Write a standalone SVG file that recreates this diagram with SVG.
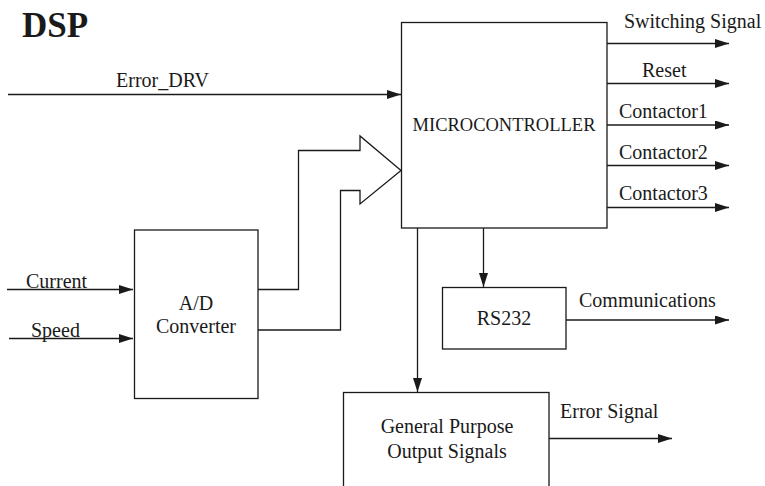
<svg xmlns="http://www.w3.org/2000/svg" width="765" height="486" viewBox="0 0 765 486" font-family="'Liberation Serif', 'Times New Roman', serif">
<defs>
<marker id="ah" markerUnits="userSpaceOnUse" markerWidth="14" markerHeight="10" refX="14" refY="4.5" orient="auto">
<path d="M0,0 L14,4.5 L0,9 z" fill="#1a1a1a"/>
</marker>
<style>
.box{fill:#fff;stroke:#1a1a1a;stroke-width:1.3}
.ln{fill:none;stroke:#1a1a1a;stroke-width:1.3}
.ar{fill:none;stroke:#1a1a1a;stroke-width:1.3;marker-end:url(#ah)}
text{font-family:'Liberation Serif','Times New Roman',serif;font-size:20px;fill:#1a1a1a}
.c{text-anchor:middle}
</style>
</defs>
<rect width="765" height="486" fill="#fff"/>
<text x="22" y="37" style="font-size:35px;font-weight:bold">DSP</text>

<g id="connectors">
<line class="ar" x1="8" y1="94.5" x2="401" y2="94.5"/>
<line class="ar" x1="607" y1="43.5" x2="729" y2="43.5"/>
<line class="ar" x1="607" y1="83.5" x2="729" y2="83.5"/>
<line class="ar" x1="607" y1="125" x2="729" y2="125"/>
<line class="ar" x1="607" y1="165.5" x2="729" y2="165.5"/>
<line class="ar" x1="607" y1="207.5" x2="729" y2="207.5"/>
<line class="ar" x1="7" y1="289.5" x2="133" y2="289.5"/>
<line class="ar" x1="9" y1="338.5" x2="133" y2="338.5"/>
<path class="ln" d="M258,289.5 H298.5 V150.5 H360 V136 L401,170.5 L360,204 V190.5 H340.5 V330 H258"/>
<line class="ar" x1="483.5" y1="228" x2="483.5" y2="287"/>
<line class="ar" x1="417.5" y1="228" x2="417.5" y2="392"/>
<line class="ar" x1="566" y1="320" x2="729" y2="320"/>
<line class="ar" x1="549" y1="438.5" x2="672" y2="438.5"/>
</g>

<g id="labels">
<text x="116" y="87">Error_DRV</text>
<text x="624" y="28">Switching Signal</text>
<text x="642" y="77">Reset</text>
<text x="619" y="118">Contactor1</text>
<text x="619" y="159">Contactor2</text>
<text x="619" y="200">Contactor3</text>
<text x="26" y="288">Current</text>
<text x="31" y="336.5">Speed</text>
<text x="579" y="307">Communications</text>
<text x="560" y="418">Error Signal</text>
</g>

<g id="microcontroller">
<rect class="box" x="401.5" y="22.5" width="205.5" height="205.5"/>
<text class="c" x="504" y="131" style="font-size:18.5px">MICROCONTROLLER</text>
</g>

<g id="ad-converter">
<rect class="box" x="134.5" y="230" width="123.5" height="168.5"/>
<text class="c" x="196" y="310">A/D</text>
<text class="c" x="196" y="333">Converter</text>
</g>

<g id="rs232">
<rect class="box" x="442.5" y="287.5" width="123.5" height="61.5"/>
<text class="c" x="504" y="325">RS232</text>
</g>

<g id="gp-output">
<rect class="box" x="343.5" y="392.5" width="205.5" height="110"/>
<text class="c" x="447" y="433">General Purpose</text>
<text class="c" x="447" y="457.5">Output Signals</text>
</g>
</svg>
